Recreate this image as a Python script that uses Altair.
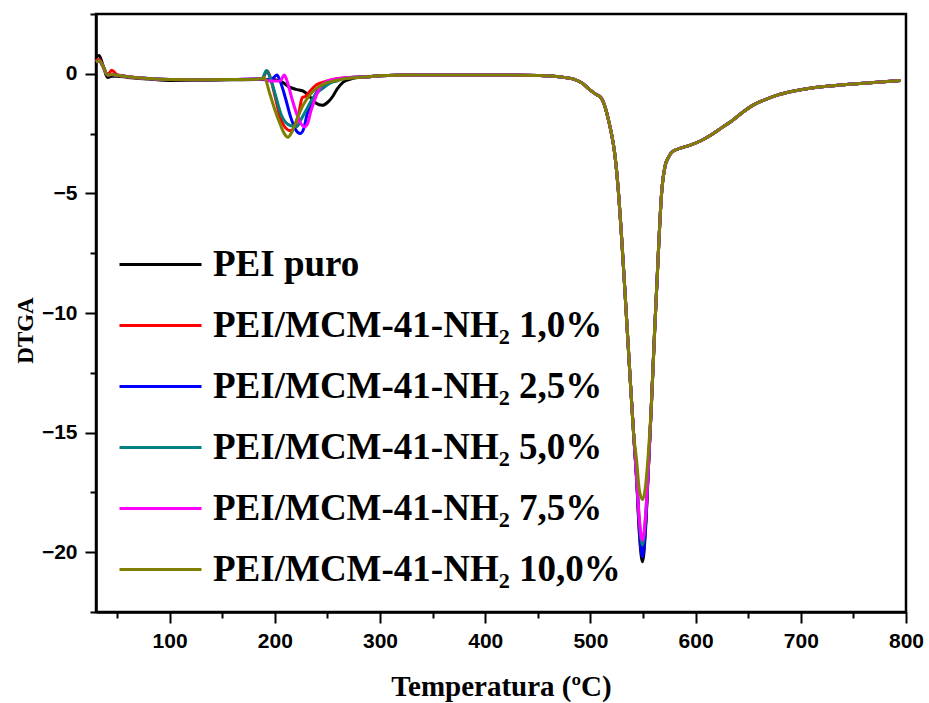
import altair as alt
import pandas as pd

series_names = [
    "PEI puro",
    "PEI/MCM-41-NH₂ 1,0%",
    "PEI/MCM-41-NH₂ 2,5%",
    "PEI/MCM-41-NH₂ 5,0%",
    "PEI/MCM-41-NH₂ 7,5%",
    "PEI/MCM-41-NH₂ 10,0%",
]
series_colors = ["#000000", "#ff0000", "#0000ff", "#008080", "#ff00ff", "#808000"]

# --- start region (30-185 °C)
start_temp = [30, 33, 37, 41, 45, 50, 60, 80, 100, 130, 160, 185]
start_black = [0.70, 0.76, 0.30, -0.15, -0.10, -0.10, -0.15, -0.22, -0.28, -0.27, -0.25, -0.24]
start_red = [0.55, 0.60, 0.30, -0.05, 0.15, -0.04, -0.12, -0.20, -0.24, -0.25, -0.24, -0.22]
start_other = [0.50, 0.55, 0.28, -0.05, -0.03, -0.06, -0.12, -0.20, -0.24, -0.25, -0.24, -0.22]

# --- first decomposition step (190-280 °C), per series
dip_temp_black = [200, 207, 214, 220, 227, 233, 239, 245, 250, 255, 259, 265, 272, 280]
dip_black = [-0.25, -0.35, -0.56, -0.65, -0.72, -0.95, -1.22, -1.32, -1.20, -0.95, -0.65, -0.35, -0.22, -0.15]

dip_temp_red = [188, 193, 196, 200, 205, 210, 215, 219, 223, 226, 229, 233, 240, 250, 260, 270]
dip_red = [-0.20, 0.12, -0.20, -0.90, -1.80, -2.25, -2.38, -2.20, -1.60, -1.00, -0.95, -0.75, -0.45, -0.30, -0.20, -0.15]

dip_temp_blue = [188, 196, 202, 205, 210, 215, 220, 224, 227, 231, 236, 240, 246, 252, 260, 270]
dip_blue = [-0.22, -0.25, -0.05, -0.30, -1.00, -1.80, -2.35, -2.50, -2.35, -1.65, -1.10, -0.75, -0.50, -0.33, -0.22, -0.16]

dip_temp_teal = [188, 192, 195, 200, 206, 212, 218, 221, 225, 230, 235, 240, 246, 252, 259, 268]
dip_teal = [-0.20, 0.14, -0.10, -0.80, -1.70, -2.10, -2.20, -2.20, -1.90, -1.50, -1.10, -0.80, -0.60, -0.40, -0.30, -0.18]

dip_temp_magenta = [188, 195, 205, 209, 212, 216, 221, 225, 228, 231, 234, 237, 240, 244, 250, 258, 268]
dip_magenta = [-0.22, -0.30, -0.30, -0.05, -0.35, -1.00, -1.70, -2.10, -2.22, -2.10, -1.60, -1.20, -0.85, -0.50, -0.30, -0.22, -0.17]

dip_temp_olive = [188, 190, 195, 200, 205, 209, 212.5, 216, 221, 227, 233, 240, 248, 256, 265]
dip_olive = [-0.21, -0.15, -0.80, -1.50, -2.10, -2.50, -2.65, -2.45, -1.90, -1.30, -0.90, -0.60, -0.40, -0.30, -0.22]

# --- plateau and left flank of the main peak (290-541 °C)
mid_temp = [290, 300, 330, 370, 420, 450, 465, 475, 484, 492, 499, 505, 510, 514, 517, 520, 523, 526, 529, 532, 535, 538, 541]
mid_dtga = [-0.12, -0.08, -0.05, -0.05, -0.05, -0.07, -0.10, -0.15, -0.22, -0.38, -0.65, -0.85, -1.00, -1.40, -1.90, -2.50,
            -3.30, -4.60, -6.40, -8.50, -10.70, -12.90, -15.00]

# --- tip of the main peak, per series
peak_temp = [544, 546.5, 549.5, 552.5, 555]
peak_black = [-17.0, -19.2, -20.4, -19.0, -16.6]
peak_red = [-17.0, -19.0, -20.1, -18.8, -16.6]
peak_blue = [-17.0, -19.0, -20.2, -18.8, -16.6]
peak_teal = [-16.9, -18.7, -19.7, -18.5, -16.5]
peak_magenta = [-16.9, -18.6, -19.5, -18.4, -16.5]
peak_olive = [-16.2, -17.4, -17.8, -17.2, -15.9]

# --- right flank and tail (558-795 °C)
tail_temp = [558, 561, 563.5, 566, 568, 571, 574, 578, 585, 595, 605, 615, 625, 635, 645, 655, 665, 677, 690, 712, 735, 760, 795]
tail_dtga = [-13.8, -10.8, -8.5, -6.2, -4.8, -3.85, -3.5, -3.25, -3.12, -2.98, -2.8, -2.55, -2.25, -1.95, -1.6, -1.3, -1.1,
             -0.9, -0.75, -0.58, -0.48, -0.4, -0.28]

parts = [
    (start_black, dip_temp_black, dip_black, peak_black),
    (start_red, dip_temp_red, dip_red, peak_red),
    (start_other, dip_temp_blue, dip_blue, peak_blue),
    (start_other, dip_temp_teal, dip_teal, peak_teal),
    (start_other, dip_temp_magenta, dip_magenta, peak_magenta),
    (start_other, dip_temp_olive, dip_olive, peak_olive),
]

rows = []
for k, (name, (st, dt, dv, pk)) in enumerate(zip(series_names, parts)):
    xs = start_temp + dt + mid_temp + peak_temp + tail_temp
    ys = st + dv + mid_dtga + pk + tail_dtga
    for x, y in zip(xs, ys):
        rows.append({"serie": name, "ordem": k, "temp": x, "dtga": y})
df = pd.DataFrame(rows)

x_major = [100, 200, 300, 400, 500, 600, 700, 800]
x_minor = [50, 150, 250, 350, 450, 550, 650, 750]
y_major = [0, -5, -10, -15, -20]
y_minor = [2.5, -2.5, -7.5, -12.5, -17.5, -22.5]

x_scale = alt.Scale(domain=[30, 800], nice=False, zero=False)
y_scale = alt.Scale(domain=[-22.5, 2.5], nice=False, zero=False)

label_font = "Liberation Sans"
serif = "Liberation Serif"

lines = alt.Chart(df).mark_line(strokeWidth=3, interpolate="monotone").encode(
    x=alt.X("temp:Q", scale=x_scale, axis=alt.Axis(
        orient="bottom",
        values=x_major, tickSize=11, tickWidth=2, tickColor="black",
        domainColor="black", domainWidth=2.5, grid=False,
        labelFont=label_font, labelFontSize=21, labelFontWeight="bold", labelColor="black",
        labelPadding=7, labelFlush=False,
        title="Temperatura (ºC)", titleFont=serif, titleFontSize=29, titleFontWeight="bold",
        titleColor="black", titleY=83, titleBaseline="alphabetic")),
    y=alt.Y("dtga:Q", scale=y_scale, axis=alt.Axis(
        orient="left",
        values=y_major, tickSize=11, tickWidth=2, tickColor="black",
        domainColor="black", domainWidth=2.5, grid=False,
        labelFont=label_font, labelFontSize=21, labelFontWeight="bold", labelColor="black",
        labelPadding=8, labelFlush=False,
        title="DTGA", titleFont=serif, titleFontSize=23, titleFontWeight="bold",
        titleColor="black", titleX=-64, titleY=316, titleAngle=-90, titleBaseline="alphabetic")),
    color=alt.Color("serie:N", scale=alt.Scale(domain=series_names, range=series_colors),
                    sort=series_names,
                    legend=alt.Legend(
                        orient="none", legendX=22, legendY=208, title=None,
                        labelFont=serif, labelFontSize=37, labelFontWeight="bold", labelColor="black",
                        symbolType="stroke", symbolSize=6724, symbolStrokeWidth=3,
                        labelOffset=10, rowPadding=-3.6, labelLimit=700, padding=0)),
    detail="ordem:O",
    order=alt.Order("temp:Q"),
)

minor = alt.Chart(df).mark_line(opacity=0).encode(
    x=alt.X("temp:Q", scale=x_scale, axis=alt.Axis(
        values=x_minor, tickSize=6, tickWidth=2, tickColor="black", orient="bottom",
        domain=False, labels=False, grid=False, title=None)),
    y=alt.Y("dtga:Q", scale=y_scale, axis=alt.Axis(
        values=y_minor, tickSize=6, tickWidth=2, tickColor="black", orient="left",
        domain=False, labels=False, grid=False, title=None)),
    detail="serie:N",
)

chart = alt.layer(minor, lines).resolve_axis(x="independent", y="independent").properties(
    width=810, height=598,
    autosize=alt.AutoSizeParams(type="none"),
    padding={"left": 96, "top": 14, "right": 23, "bottom": 91},
    background="white",
).configure_view(stroke="black", strokeWidth=2.5)

chart.save("out.html", embed_options={"renderer": "svg", "actions": False})
